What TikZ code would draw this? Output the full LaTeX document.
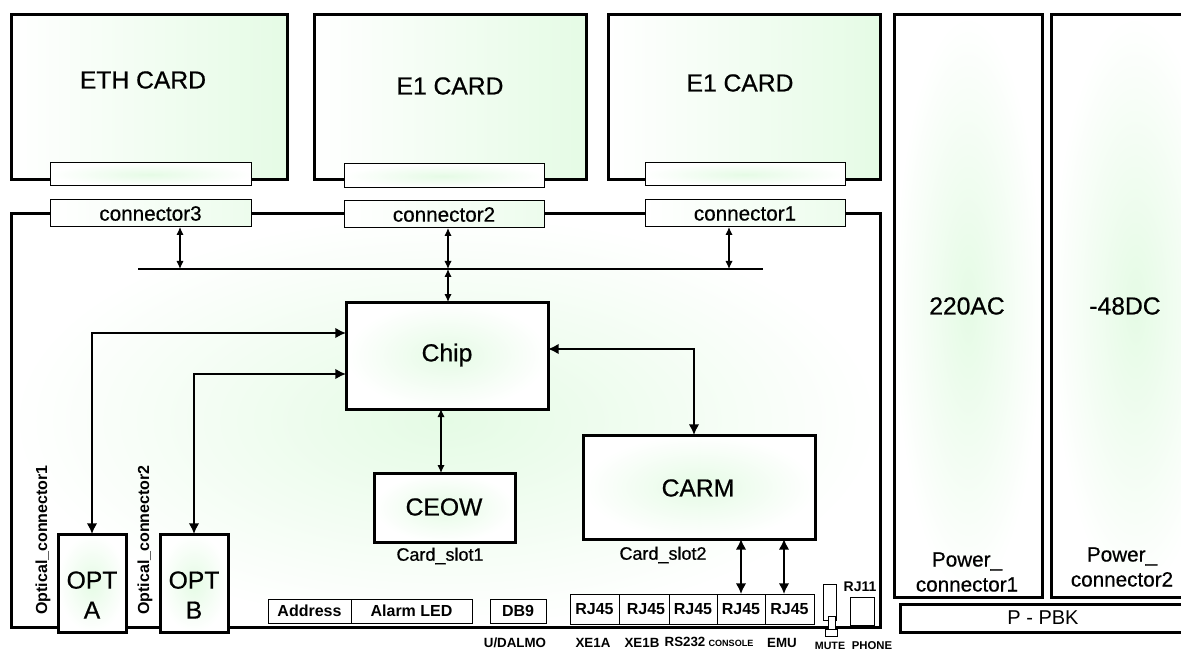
\documentclass[tikz,border=0pt]{standalone}
\usepackage{fontspec}
\setmainfont{Liberation Sans}
\newfontfamily\medfont{Liberation Sans}[FakeBold=0.6]
\usetikzlibrary{arrows.meta,fit,shadings}
\definecolor{lgreen}{RGB}{229,251,229}
\newcommand\fsBig{\medfont\fontsize{18.5}{22.5}\selectfont}
\newcommand\fsMid{\medfont\fontsize{15.5}{18.75}\selectfont}
\newcommand\fsSlot{\medfont\fontsize{13.5}{16}\selectfont}
\newcommand\fsSmall{\fontsize{12}{14}\selectfont}
\newcommand\fsTiny{\fontsize{10}{12}\selectfont}
\begin{document}
\begin{tikzpicture}[x=0.75pt,y=-0.75pt,
  thickbox/.style={draw, line width=2.25pt, inner sep=0pt, outer sep=0pt},
  thinbox/.style={draw, line width=0.75pt, inner sep=0pt, outer sep=0pt, fill=white},
  cardfill/.style={left color=white, right color=lgreen},
  radfill/.style={inner color=lgreen, outer color=white},
  lbl/.style={inner sep=0pt, font=\fsBig},
  arrS/.style={line width=0.9pt, {Latex[length=6pt,width=5.5pt]}-{Latex[length=6pt,width=5.5pt]}},
  arrM/.style={line width=1.5pt, {Latex[length=8pt,width=8pt]}-{Latex[length=8pt,width=8pt]}},
]
\useasboundingbox (0,0) rectangle (1181,652);
\clip (0,0) rectangle (1181,652);
\fill[white] (0,0) rectangle (1181,652);

% main board
\node[thickbox, radfill, fit={(11,214) (880,627)}] (board) {};

% cards
\node[thickbox, cardfill, fit={(11,15) (287,180)}] (eth) {};
\node[thickbox, cardfill, fit={(314,15) (586,180)}] (e1a) {};
\node[thickbox, cardfill, fit={(608,15) (880,180)}] (e1b) {};
\node[lbl] (ethl) at (143,80) {ETH CARD};
\node[lbl] (e1al) at (450,86) {E1 CARD};
\node[lbl] (e1bl) at (740,83) {E1 CARD};

% card tabs
\node[thinbox, radfill, fit={(50,163) (251,186)}] (tab3) {};
\node[thinbox, radfill, fit={(344,164) (544,188)}] (tab2) {};
\node[thinbox, radfill, fit={(645,163) (845,186)}] (tab1) {};

% board connectors
\node[thinbox, left color=white, right color=lgreen!70, fit={(50,200) (251,227)}] (c3) {};
\node[thinbox, left color=white, right color=lgreen!70, fit={(344,201) (544,228)}] (c2) {};
\node[thinbox, left color=white, right color=lgreen!70, fit={(645,200) (845,227)}] (c1) {};
\node[inner sep=0pt, font=\fsMid] (c3l) at (c3.center) {connector3};
\node[inner sep=0pt, font=\fsMid] (c2l) at (c2.center) {connector2};
\node[inner sep=0pt, font=\fsMid] (c1l) at (c1.center) {connector1};

% power boxes
\node[thickbox, radfill, fit={(894,15) (1042,597)}] (p1) {};
\node[thickbox, radfill, fit={(1051,15) (1220,597)}] (p2) {};
\node[lbl] (p1l) at (967,306) {220AC};
\node[lbl] (p2l) at (1125,306) {-48DC};
\node[inner sep=0pt, font=\fsMid, align=center] (pc1) at (967,572) {Power\_\\connector1};
\node[inner sep=0pt, font=\fsMid, align=center] (pc2) at (1122,567) {Power\_\\connector2};
\node[thickbox, fill=white, fit={(900,604) (1220,632)}] (pbk) {};
\node[inner sep=0pt, font=\fontsize{15}{18}\selectfont] (pbkl) at (1043,618) {P - PBK};

% bus
\coordinate (busL) at (138,269);
\coordinate (busR) at (763,269);
\draw[line width=1.1pt] (busL) -- (busR);
\coordinate (b3) at (180,269);
\coordinate (b2) at (448,269);
\coordinate (b1) at (729,269);
\draw[arrS] (c3.south -| b3) -- (b3);
\draw[arrS] (c2.south -| b2) -- (b2);
\draw[arrS] (c1.south -| b1) -- (b1);

% chip, CEOW, CARM
\node[thickbox, radfill, fit={(346,302) (548,409)}] (chip) {};
\node[lbl] (chipl) at (447,355) {Chip};
\node[thickbox, radfill, fit={(374,473) (515,542)}] (ceow) {};
\node[lbl] (ceowl) at (444,507) {CEOW};
\node[inner sep=0pt, font=\fsSlot] (cs1) at (440,556) {Card\_slot1};
\node[thickbox, radfill, fit={(583,435) (815,539)}] (carm) {};
\node[lbl] (carml) at (698,488) {CARM};
\node[inner sep=0pt, font=\fsSlot] (cs2) at (663,555) {Card\_slot2};

\draw[arrS] (b2) -- (chip.north -| b2);
\draw[arrS] (chip.south -| 441,0) -- (ceow.north -| 441,0);
\draw[arrM] (chip.east |- 0,349) -| (carm.north -| 694,0);

% optical
\node[thickbox, radfill, fit={(58,534) (126,632)}] (optA) {};
\node[thickbox, radfill, fit={(160,534) (228,632)}] (optB) {};
\node[inner sep=0pt, font=\fsBig, align=center] (optAl) at (92,595) {OPT\\A};
\node[inner sep=0pt, font=\fsBig, align=center] (optBl) at (194,595) {OPT\\B};
\node[inner sep=0pt, rotate=90, font=\bfseries\fsSmall] (oc1) at (43,540) {Optical\_connector1};
\node[inner sep=0pt, rotate=90, font=\bfseries\fsSmall] (oc2) at (145,540) {Optical\_connector2};
\draw[arrM] (chip.west |- 0,333) -| (optA.north);
\draw[arrM] (chip.west |- 0,374) -| (optB.north);

% bottom small boxes
\node[thinbox, fit={(268,599) (351,623)}] (addr) {};
\node[thinbox, fit={(351,599) (472,623)}] (alarm) {};
\node[thinbox, fit={(490,599) (546,623)}] (db9) {};
\node[inner sep=0pt, font=\bfseries\fsSmall] (addrl) at (addr.center) {Address};
\node[inner sep=0pt, font=\bfseries\fsSmall] (alarml) at (alarm.center) {Alarm LED};
\node[inner sep=0pt, font=\bfseries\fsSmall] (db9l) at (db9.center) {DB9};
\node[inner sep=0pt, font=\bfseries\fsTiny] (udal) at (515,643) {U/DALMO};

\node[thinbox, fit={(570,594) (619,624)}] (rj1) {};
\node[thinbox, fit={(619,594) (669,624)}] (rj2) {};
\node[thinbox, fit={(669,594) (717,624)}] (rj3) {};
\node[thinbox, fit={(717,594) (765,624)}] (rj4) {};
\node[thinbox, fit={(765,594) (814,624)}] (rj5) {};
\node[inner sep=0pt, font=\bfseries\fsSmall] (rj1l) at (rj1.center) {RJ45};
\node[inner sep=0pt, font=\bfseries\fsSmall] (rj2l) at ([xshift=1.5pt]rj2.center) {RJ45};
\node[inner sep=0pt, font=\bfseries\fsSmall] (rj3l) at (rj3.center) {RJ45};
\node[inner sep=0pt, font=\bfseries\fsSmall] (rj4l) at (rj4.center) {RJ45};
\node[inner sep=0pt, font=\bfseries\fsSmall] (rj5l) at (rj5.center) {RJ45};
\node[inner sep=0pt, font=\bfseries\fsTiny] (x1) at (593,643) {XE1A};
\node[inner sep=0pt, font=\bfseries\fsTiny] (x2) at (642,643) {XE1B};
\node[inner sep=0pt, font=\bfseries\fsTiny] (x3) at (685,642) {RS232};
\node[inner sep=0pt, font=\bfseries\fontsize{6.8}{9}\selectfont] (x4) at (731,643) {CONSOLE};
\node[inner sep=0pt, font=\bfseries\fsTiny] (x5) at (782,643) {EMU};
\node[inner sep=0pt, font=\bfseries\fontsize{8}{9}\selectfont] (x6) at (830,646) {MUTE};
\node[inner sep=0pt, font=\bfseries\fontsize{8.5}{9}\selectfont] (x7) at (872,646) {PHONE};

\draw[arrM] (carm.south -| 741,0) -- (rj4.north -| 741,0);
\draw[arrM] (carm.south -| 784,0) -- (rj5.north -| 784,0);

% mute switch and RJ11
\node[thinbox, line width=0.6pt, fit={(823,584) (836,620)}] (mute) {};
\node[thinbox, line width=0.6pt, fit={(828,616) (835,632)}] (mutek) {};
\node[thinbox, line width=0.6pt, fit={(825,629) (837,636)}] (mutef) {};
\node[thinbox, fit={(850,597) (874,625)}] (rj11) {};
\node[inner sep=0pt, font=\bfseries\fontsize{10.5}{12}\selectfont] (rj11l) at (860,587) {RJ11};
\end{tikzpicture}
\end{document}
